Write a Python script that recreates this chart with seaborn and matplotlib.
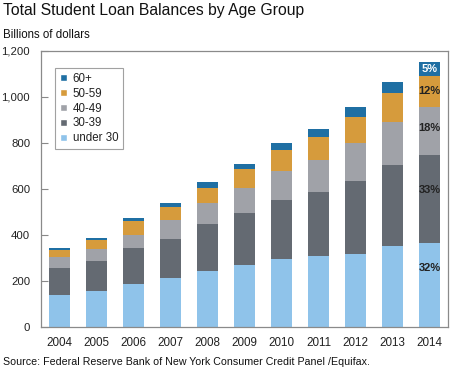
import numpy as np
import pandas as pd
import seaborn as sns
import matplotlib.pyplot as plt
from matplotlib.patches import Patch

# values (billions of dollars)
years = ['2004', '2005', '2006', '2007', '2008', '2009', '2010', '2011', '2012', '2013', '2014']
under30 = [141, 157, 189, 212, 244, 268, 294, 307, 316, 352, 364]
age30_39 = [114, 129, 155, 171, 203, 229, 257, 280, 319, 354, 384]
age40_49 = [48, 55, 58, 81, 94, 109, 126, 141, 164, 185, 209]
age50_59 = [33, 39, 58, 56, 65, 79, 93, 98, 113, 125, 136]
age60p = [6, 9, 16, 18, 23, 25, 31, 36, 43, 51, 58]

groups = ['under 30', '30-39', '40-49', '50-59', '60+']
colors = ['#8fc3ea', '#646a72', '#a0a2a8', '#d69b3c', '#1f6fa3']

df = pd.DataFrame({'year': years, 'under 30': under30, '30-39': age30_39,
                   '40-49': age40_49, '50-59': age50_59, '60+': age60p})
cum = df[groups].cumsum(axis=1)

sns.set_style('white')
plt.rcParams['font.family'] = ['Liberation Sans', 'DejaVu Sans']

fig = plt.figure(figsize=(4.5, 3.79), dpi=100)
ax = fig.add_axes([41 / 450, 1 - 327 / 379, 407 / 450, 276 / 379])

# draw cumulative totals from tallest to shortest so they stack
for g, c in reversed(list(zip(groups, colors))):
    sns.barplot(x=df['year'], y=cum[g], color=c, saturation=1, width=0.57,
                linewidth=0, ax=ax)

# percentage labels on the 2014 bar
last = df.iloc[-1]
total = last[groups].sum()
fracs = [0.7, 0.6, 0.57, 0.5, 0.5]
bottom = 0
for g, f in zip(groups, fracs):
    h = last[g]
    pct = f"{round(h / total * 100):.0f}%"
    ax.text(10, bottom + h * f, pct, ha='center', va='center', fontsize=8,
            fontweight='bold', color='white' if g == '60+' else '#222222')
    bottom += h

ax.set_xlim(-0.5, 10.5)
ax.set_ylim(0, 1200)
ax.set_yticks(range(0, 1201, 200))
ax.set_yticklabels([f"{v:,}" for v in range(0, 1201, 200)])
ax.set_xlabel('')
ax.set_ylabel('')
ax.tick_params(axis='y', direction='in', length=5, width=0.8, color='#888888',
               labelsize=8.2, labelcolor='#222222', pad=7.8, left=True)
ax.tick_params(axis='x', length=0, labelsize=8.4, labelcolor='#222222', pad=7)
for s in ax.spines.values():
    s.set_visible(True)
    s.set_color('#8a8a8a')
    s.set_linewidth(0.9)

handles = [Patch(facecolor=c, label=g) for g, c in zip(groups, colors)][::-1]
leg = ax.legend(handles=handles, loc='upper left', bbox_to_anchor=(0.035, 0.94),
                fontsize=8.3, frameon=True, fancybox=False, handlelength=0.55,
                handleheight=0.55, handletextpad=0.5, labelspacing=0.25,
                borderpad=0.45, borderaxespad=0)
leg.get_frame().set_edgecolor('#8a8a8a')
leg.get_frame().set_linewidth(0.8)
for t in leg.get_texts():
    t.set_color('#222222')

fig.text(0.007, 1 - 15 / 379, 'Total Student Loan Balances by Age Group',
         fontsize=11.3, color='#111111', va='baseline')
fig.text(0.007, 1 - 37.7 / 379, 'Billions of dollars', fontsize=8.3,
         color='#111111', va='baseline')
fig.text(0.006, 1 - 365 / 379,
         'Source: Federal Reserve Bank of New York Consumer Credit Panel /Equifax.',
         fontsize=7.65, color='#111111', va='baseline')

fig.savefig('out.png', dpi=100)
